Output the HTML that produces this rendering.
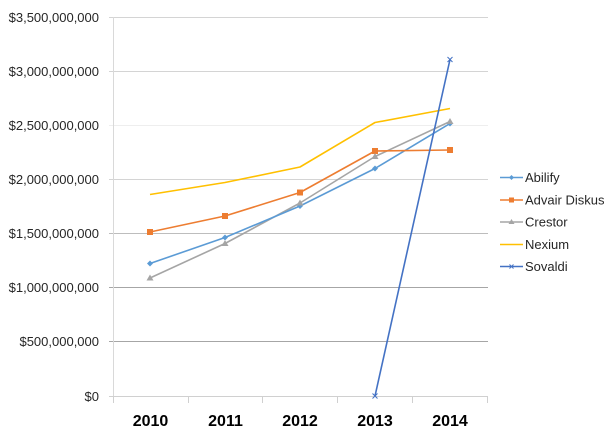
<!DOCTYPE html>
<html>
<head>
<meta charset="utf-8">
<style>
html,body{margin:0;padding:0;background:#fff;}
svg{display:block;}
text{font-family:"Liberation Sans",sans-serif;}
</style>
</head>
<body>
<svg width="612" height="444" viewBox="0 0 612 444" xmlns="http://www.w3.org/2000/svg">
<rect width="612" height="444" fill="#fff"/>
<!-- gridlines -->
<g stroke-width="1" shape-rendering="crispEdges">
<line x1="109" y1="17.5" x2="488" y2="17.5" stroke="#d4d4d4"/>
<line x1="109" y1="71.5" x2="488" y2="71.5" stroke="#d4d4d4"/>
<line x1="109" y1="125.5" x2="488" y2="125.5" stroke="#eeeeee"/>
<line x1="109" y1="179.5" x2="488" y2="179.5" stroke="#d4d4d4"/>
<line x1="109" y1="233.5" x2="488" y2="233.5" stroke="#bdbdbd"/>
<line x1="109" y1="287.5" x2="488" y2="287.5" stroke="#a6a6a6"/>
<line x1="109" y1="341.5" x2="488" y2="341.5" stroke="#a6a6a6"/>
<line x1="109" y1="396.5" x2="488" y2="396.5" stroke="#d0d0d0"/>
<line x1="113.5" y1="17" x2="113.5" y2="397" stroke="#d9d9d9"/>
<line x1="113.5" y1="396" x2="113.5" y2="403" stroke="#d0d0d0"/>
<line x1="188.5" y1="396" x2="188.5" y2="403" stroke="#d0d0d0"/>
<line x1="262.5" y1="396" x2="262.5" y2="403" stroke="#d0d0d0"/>
<line x1="337.5" y1="396" x2="337.5" y2="403" stroke="#d0d0d0"/>
<line x1="412.5" y1="396" x2="412.5" y2="403" stroke="#d0d0d0"/>
<line x1="487.5" y1="396" x2="487.5" y2="403" stroke="#d0d0d0"/>
</g>
<!-- y labels -->
<g font-size="13" fill="#262626" text-anchor="end">
<text x="99" y="22">$3,500,000,000</text>
<text x="99" y="76">$3,000,000,000</text>
<text x="99" y="130">$2,500,000,000</text>
<text x="99" y="184">$2,000,000,000</text>
<text x="99" y="238">$1,500,000,000</text>
<text x="99" y="292">$1,000,000,000</text>
<text x="99" y="346">$500,000,000</text>
<text x="99" y="401">$0</text>
</g>
<!-- x labels -->
<g font-size="16" font-weight="bold" fill="#000" text-anchor="middle">
<text x="150.5" y="426">2010</text>
<text x="225.5" y="426">2011</text>
<text x="300" y="426">2012</text>
<text x="375" y="426">2013</text>
<text x="450" y="426">2014</text>
</g>
<!-- series -->
<g fill="none" stroke-width="1.6" stroke-linejoin="round">
<polyline stroke="#FFC000" points="150,194.5 225,182.5 300,167 375,122.5 450,108.5"/>
<polyline stroke="#A5A5A5" points="150,278 225,243.5 300,203 375,156.5 450,121.5"/>
<polyline stroke="#5B9BD5" points="150,263.5 225,237.5 300,206 375,168.5 450,123.5"/>
<polyline stroke="#ED7D31" points="150,232 225,216 300,192.5 375,151 450,150"/>
<polyline stroke="#4472C4" points="375,396 450,59.5"/>
</g>
<!-- markers -->
<g fill="#ED7D31">
<rect x="147" y="229" width="6" height="6"/>
<rect x="222" y="213" width="6" height="6"/>
<rect x="297" y="189.5" width="6" height="6"/>
<rect x="372" y="148" width="6" height="6"/>
<rect x="447" y="147" width="6" height="6"/>
</g>
<g fill="#5B9BD5">
<path d="M150,260.5 l3,3 l-3,3 l-3,-3z"/>
<path d="M225,234.5 l3,3 l-3,3 l-3,-3z"/>
<path d="M300,203 l3,3 l-3,3 l-3,-3z"/>
<path d="M375,165.5 l3,3 l-3,3 l-3,-3z"/>
<path d="M450,120.5 l3,3 l-3,3 l-3,-3z"/>
</g>
<g fill="#A5A5A5">
<path d="M150,274.5 l3.5,6 h-7z"/>
<path d="M225,240 l3.5,6 h-7z"/>
<path d="M300,199.5 l3.5,6 h-7z"/>
<path d="M375,153 l3.5,6 h-7z"/>
<path d="M450,118 l3.5,6 h-7z"/>
</g>
<g stroke="#4472C4" stroke-width="1">
<path d="M372.5,393.5 l5,5 M377.5,393.5 l-5,5"/>
<path d="M447.5,57 l5,5 M452.5,57 l-5,5"/>
</g>
<!-- legend -->
<g stroke-width="1.6">
<line x1="500" y1="177.5" x2="523" y2="177.5" stroke="#5B9BD5"/>
<line x1="500" y1="200" x2="523" y2="200" stroke="#ED7D31"/>
<line x1="500" y1="222" x2="523" y2="222" stroke="#A5A5A5"/>
<line x1="500" y1="244.5" x2="523" y2="244.5" stroke="#FFC000"/>
<line x1="500" y1="266.5" x2="523" y2="266.5" stroke="#4472C4"/>
</g>
<path d="M511.5,175 l2.5,2.5 l-2.5,2.5 l-2.5,-2.5z" fill="#5B9BD5"/>
<rect x="509" y="197.5" width="5" height="5" fill="#ED7D31"/>
<path d="M511.5,219 l3,5 h-6z" fill="#A5A5A5"/>
<path d="M509.5,264.5 l4,4 M513.5,264.5 l-4,4" stroke="#4472C4" stroke-width="1"/>
<g font-size="13" fill="#262626">
<text x="525" y="182">Abilify</text>
<text x="525" y="204.5">Advair Diskus</text>
<text x="525" y="226.5">Crestor</text>
<text x="525" y="249">Nexium</text>
<text x="525" y="271">Sovaldi</text>
</g>
</svg>
</body>
</html>
